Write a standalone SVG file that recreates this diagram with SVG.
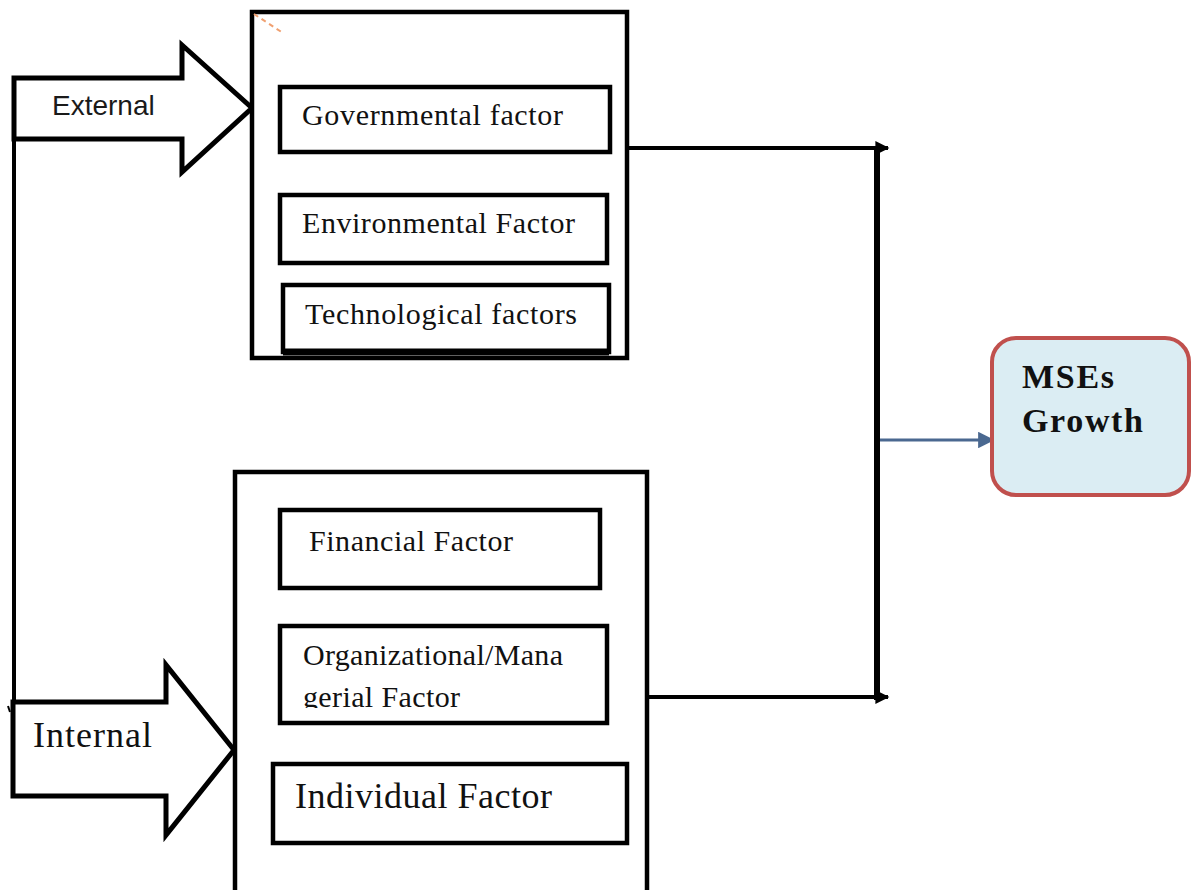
<svg xmlns="http://www.w3.org/2000/svg" width="1191" height="890" viewBox="0 0 1191 890">
<style>
.box{fill:none;stroke:#000;stroke-width:4.5}
.big{fill:#fff;stroke:#000;stroke-width:4.5}
.blk{fill:#fff;stroke:#000;stroke-width:5;stroke-linejoin:miter}
.ser{font-family:"Liberation Serif","Times New Roman",serif;fill:#111}
.conn{stroke:#000;stroke-width:4;fill:none}
</style>
<defs>
<marker id="ah" viewBox="0 0 10 10" refX="9" refY="5" markerWidth="4" markerHeight="3.5" markerUnits="strokeWidth" orient="auto">
<path d="M0,0 L10,5 L0,10 z" fill="#000"/>
</marker>
<marker id="ahb" viewBox="0 0 10 10" refX="9" refY="5" markerWidth="6.5" markerHeight="5.5" markerUnits="strokeWidth" orient="auto">
<path d="M0,0 L10,5 L0,10 z" fill="#4a6890"/>
</marker>
<clipPath id="clipOrg"><rect x="280" y="626" width="330" height="82"/></clipPath>
</defs>
<rect width="1191" height="890" fill="#fff"/>

<g id="connectors">
<line class="conn" x1="14" y1="80" x2="14" y2="704"/>
<line x1="8" y1="706" x2="10" y2="712" stroke="#000" stroke-width="2"/>
<line class="conn" x1="627" y1="148" x2="888" y2="148" marker-end="url(#ah)"/>
<line class="conn" x1="647" y1="697" x2="888" y2="697" marker-end="url(#ah)"/>
<line x1="877" y1="146" x2="877" y2="700" stroke="#000" stroke-width="6"/>
<line x1="880" y1="440" x2="993" y2="440" stroke="#4a6890" stroke-width="3" marker-end="url(#ahb)"/>
</g>

<g id="external-arrow">
<polygon class="blk" points="14,78 182,78 182,45 252,108 182,172 182,139 14,139"/>
<text x="52" y="115" font-family="Liberation Sans, Arial, sans-serif" font-size="28" fill="#1a1a1a">External</text>
</g>

<g id="external-box">
<rect class="big" x="252" y="12" width="375" height="346"/>
<line x1="254" y1="14" x2="283" y2="33" stroke="#f0a070" stroke-width="2" stroke-dasharray="5,4"/>
</g>

<g id="governmental">
<rect class="box" x="280" y="87" width="330" height="65"/>
<text class="ser" x="302" y="125" font-size="30" textLength="261" lengthAdjust="spacing">Governmental factor</text>
</g>
<g id="environmental">
<rect class="box" x="280" y="195" width="327" height="68"/>
<text class="ser" x="302" y="233" font-size="30" textLength="273" lengthAdjust="spacing">Environmental Factor</text>
</g>
<g id="technological">
<rect class="box" x="283" y="285" width="326" height="67"/>
<line x1="283" y1="352" x2="609" y2="352" stroke="#000" stroke-width="7"/>
<text class="ser" x="305" y="324" font-size="30" textLength="272" lengthAdjust="spacing">Technological factors</text>
</g>

<g id="internal-box">
<rect class="big" x="235" y="472" width="412" height="425"/>
</g>

<g id="internal-arrow">
<polygon class="blk" points="13,702 166,702 166,665 234,750 166,835 166,796 13,796"/>
<text class="ser" x="33" y="747" font-size="36" textLength="119" lengthAdjust="spacing">Internal</text>
</g>

<g id="financial">
<rect class="box" x="280" y="510" width="320" height="78"/>
<text class="ser" x="309" y="551" font-size="30" textLength="204" lengthAdjust="spacing">Financial Factor</text>
</g>
<g id="organizational">
<rect class="box" x="280" y="626" width="327" height="97"/>
<text class="ser" x="303" y="665" font-size="30" textLength="260" lengthAdjust="spacing">Organizational/Mana</text>
<text class="ser" x="303" y="707" font-size="30" textLength="157" lengthAdjust="spacing" clip-path="url(#clipOrg)">gerial Factor</text>
</g>
<g id="individual">
<rect class="box" x="273" y="764" width="354" height="79"/>
<text class="ser" x="295" y="808" font-size="36" textLength="257" lengthAdjust="spacing">Individual Factor</text>
</g>

<g id="mses-growth">
<rect x="992" y="338" width="197" height="157" rx="24" ry="24" fill="#dbedf3" stroke="#c0504d" stroke-width="4"/>
<text class="ser" x="1022" y="388" font-size="34" font-weight="bold" textLength="92" lengthAdjust="spacing">MSEs</text>
<text class="ser" x="1022" y="432" font-size="34" font-weight="bold" textLength="121" lengthAdjust="spacing">Growth</text>
</g>
</svg>
